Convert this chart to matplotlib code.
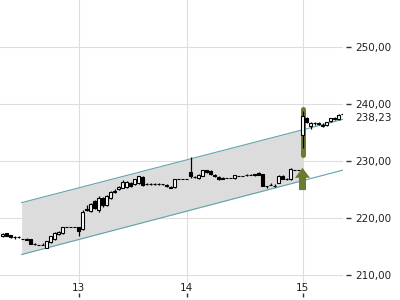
import numpy as np
import matplotlib.pyplot as plt
from matplotlib.patches import FancyArrow

# intraday candles (one entry per candle)
opens = [216.8, 217.3, 217.0, 216.6, 216.7, 216.4, 216.4, 216.3, 215.4, 215.3,
         215.3, 214.8, 215.8, 216.3, 217.2, 217.3, 218.4, 218.4, 218.4, 218.4,
         218.0, 221.6, 221.2, 223.0, 221.4, 223.5, 222.3, 223.5, 224.8, 225.1,
         225.3, 225.4, 226.2, 225.9, 226.1, 227.2, 226.0, 225.9, 226.0, 225.9,
         226.0, 225.8, 225.3, 225.4, 226.8, 226.8, 226.8, 228.1, 227.2, 227.0,
         227.4, 228.4, 228.3, 227.6, 227.2, 227.1, 227.0, 227.0, 227.0, 227.3,
         227.4, 227.6, 227.6, 227.7, 227.9, 227.7, 225.6, 225.8, 225.7, 226.2,
         227.4, 226.9, 226.8, 228.4, 228.4, 234.6, 237.6, 236.1, 236.6, 236.7,
         236.2, 236.3, 237.0, 237.3, 237.3, 238.2]
highs = [217.3, 217.4, 217.1, 216.8, 216.8, 216.4, 216.5, 216.4, 215.6, 215.3,
         215.7, 216.0, 216.9, 217.5, 217.8, 218.5, 218.4, 218.4, 218.4, 218.5,
         221.4, 222.2, 222.7, 223.2, 223.8, 223.7, 224.0, 224.8, 225.1, 225.6,
         226.6, 226.5, 226.3, 226.9, 227.4, 227.3, 226.1, 226.1, 226.1, 226.1,
         226.0, 225.9, 225.6, 226.9, 226.8, 226.8, 226.8, 230.7, 227.4, 227.7,
         228.5, 228.5, 228.4, 227.7, 227.3, 227.2, 227.0, 227.0, 227.6, 227.3,
         227.4, 227.7, 227.7, 227.8, 228.0, 227.8, 225.6, 226.2, 225.9, 227.5,
         227.5, 227.1, 228.7, 228.4, 228.4, 238.7, 237.8, 236.8, 236.9, 236.8,
         236.6, 236.9, 237.6, 237.7, 238.2, 238.4]
lows = [216.7, 216.8, 216.5, 216.4, 216.5, 216.4, 216.1, 215.4, 215.3, 215.3,
        215.3, 214.7, 215.7, 216.2, 217.1, 217.2, 218.4, 218.4, 218.4, 216.8,
        217.9, 221.3, 221.0, 221.6, 221.1, 222.0, 222.1, 223.4, 224.4, 225.0,
        225.2, 225.3, 225.5, 225.8, 226.0, 225.7, 225.8, 225.8, 225.8, 225.8,
        225.8, 225.5, 225.2, 225.3, 226.8, 226.8, 226.8, 227.1, 227.0, 226.9,
        227.3, 227.9, 227.6, 227.2, 226.7, 226.8, 227.0, 227.0, 226.9, 227.3,
        227.4, 227.4, 227.5, 227.4, 227.5, 225.6, 225.2, 225.8, 225.5, 226.1,
        226.8, 226.7, 226.7, 228.4, 228.4, 232.3, 236.6, 235.6, 236.3, 236.3,
        235.9, 236.2, 236.9, 237.2, 237.2, 238.1]
closes = [217.2, 216.9, 216.6, 216.6, 216.6, 216.4, 216.2, 215.5, 215.5, 215.3,
          215.3, 216.0, 216.8, 217.4, 217.5, 218.4, 218.4, 218.4, 218.4, 217.8,
          221.1, 221.4, 222.5, 221.8, 223.6, 222.2, 223.8, 224.6, 224.6, 225.4,
          226.4, 226.4, 225.6, 226.8, 227.3, 225.8, 225.9, 226.0, 225.9, 226.0,
          225.9, 225.6, 225.5, 226.8, 226.8, 226.8, 226.8, 227.3, 227.2, 227.6,
          228.4, 228.0, 227.7, 227.3, 226.8, 226.9, 227.0, 227.0, 227.5, 227.3,
          227.4, 227.5, 227.6, 227.5, 227.6, 225.7, 225.6, 225.8, 225.7, 227.4,
          226.9, 226.9, 228.6, 228.4, 228.4, 237.9, 236.8, 236.6, 236.6, 236.5,
          236.4, 236.8, 237.5, 237.6, 238.1, 238.23]

day_pos = [19, 46, 75]
day_labels = ['13', '14', '15']
price_ticks = [210, 220, 230, 240, 250]
last_price = 238.23

# trend channel
chan_x = [4.8, 85.6]
chan_upper = [222.7, 237.4]
chan_lower = [213.6, 228.5]
chan_fill_end = 75

# signal marker
signal_x = 75
signal_span = [231.1, 239.2]
arrow_from = 224.9
arrow_to = 228.8

olive = '#6b7c30'
teal = '#5fa5aa'


def fmt(v):
    return f'{v:.2f}'.replace('.', ',')


fig = plt.figure(figsize=(4, 3), dpi=100)
ax = fig.add_axes([0, 17 / 300, 343 / 400, 283 / 300])

o = np.array(opens)
h = np.array(highs)
l = np.array(lows)
c = np.array(closes)
x = np.arange(len(o))
up = c >= o

# channel
fx = np.array([chan_x[0], chan_fill_end])
ax.fill_between(fx, np.interp(fx, chan_x, chan_lower), np.interp(fx, chan_x, chan_upper),
                color='#dcdcdc', lw=0, zorder=1)
ax.plot(chan_x, chan_upper, color=teal, lw=0.8, zorder=2)
ax.plot(chan_x, chan_lower, color=teal, lw=0.8, zorder=2)

# highlight + arrow
ax.plot([signal_x, signal_x], signal_span, color=olive, lw=3.6,
        solid_capstyle='round', zorder=2.5)
ax.add_patch(FancyArrow(signal_x, arrow_from, 0, arrow_to - arrow_from, width=1.75,
                        head_width=3.75, head_length=1.75, length_includes_head=True,
                        color=olive, lw=0, zorder=5))

# candles
ax.vlines(x, l, h, color='black', lw=0.9, zorder=3)
ax.bar(x, np.abs(c - o), bottom=np.minimum(o, c), width=0.75,
       color=np.where(up, 'white', 'black'), edgecolor='black', linewidth=0.8, zorder=4)

ax.set_xlim(-0.625, 85.125)
ax.set_ylim(208.6, 258.25)
ax.set_axisbelow(True)
ax.grid(color='#dddddd', lw=0.8)
for s in ax.spines.values():
    s.set_visible(False)

ax.set_yticks(price_ticks)
ax.set_xticks(day_pos, day_labels)
ax.tick_params(axis='y', left=False, labelleft=False)
ax.tick_params(axis='x', length=0, pad=0, labelsize=7.5, labelcolor='#222222')

sec_y = ax.secondary_yaxis(346 / 343)
sec_y.set_yticks(price_ticks, [fmt(v) for v in price_ticks])
sec_y.tick_params(length=3.4, width=1, color='#333333', pad=3.5,
                  labelsize=7.5, labelcolor='#222222')
for s in sec_y.spines.values():
    s.set_visible(False)

sec_x = ax.secondary_xaxis(-14 / 283)
sec_x.set_xticks(day_pos, [''] * len(day_pos))
sec_x.tick_params(direction='in', length=2.9, width=1, color='#333333')
for s in sec_x.spines.values():
    s.set_visible(False)

ax.annotate(fmt(last_price), xy=(1, last_price), xycoords=('axes fraction', 'data'),
            xytext=(12, -4), textcoords='offset pixels', va='center', ha='left',
            fontsize=7.5, color='#222222', annotation_clip=False,
            bbox=dict(fc='white', ec='none', pad=0.3))

fig.savefig('out.png', dpi=100)
